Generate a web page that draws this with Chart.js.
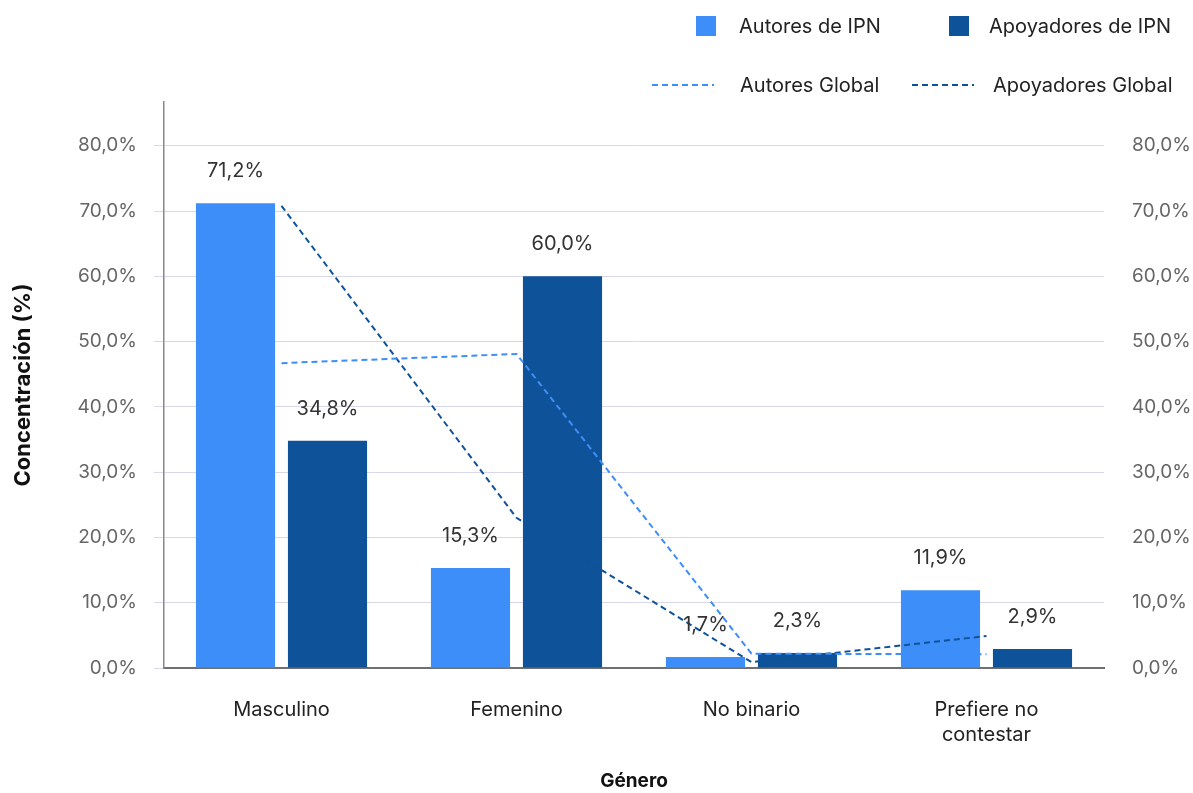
<!DOCTYPE html>
<html>
<head>
<meta charset="utf-8">
<script src="https://cdn.jsdelivr.net/npm/chart.js@4"></script>
<style>
  body { margin: 0; background: #fff; font-family: Inter, sans-serif; }
  #wrap { position: relative; width: 1193px; height: 793px; }
  .leg { position: absolute; font-size: 20px; color: #222; line-height: 20px; white-space: nowrap; }
  .sq { position: absolute; width: 20px; height: 20px; }
</style>
</head>
<body>
<div id="wrap">
  <canvas id="grafico"></canvas>
  <!-- leyenda -->
  <div class="sq" style="left:696px;top:16px;background:#3d8ef8"></div>
  <div class="leg" style="left:739px;top:16px">Autores de IPN</div>
  <div class="sq" style="left:949px;top:16px;background:#0e5299"></div>
  <div class="leg" style="left:989px;top:16px">Apoyadores de IPN</div>
  <svg style="position:absolute;left:652px;top:80px" width="62" height="10"><line x1="0" y1="5" x2="62" y2="5" stroke="#3d8ef8" stroke-width="2" stroke-dasharray="6 4"/></svg>
  <div class="leg" style="left:740px;top:75px">Autores Global</div>
  <svg style="position:absolute;left:912px;top:80px" width="62" height="10"><line x1="0" y1="5" x2="62" y2="5" stroke="#0e5299" stroke-width="2" stroke-dasharray="6 4"/></svg>
  <div class="leg" style="left:993px;top:75px">Apoyadores Global</div>
</div>
<script>
// datos
const categorias = ['Masculino', 'Femenino', 'No binario', ['Prefiere no', 'contestar']];
const autoresIPN = [71.2, 15.3, 1.7, 11.9];
const apoyadoresIPN = [34.8, 60.0, 2.3, 2.9];
const autoresGlobal = [46.7, 48.1, 2.2, 2.1];
const apoyadoresGlobal = [70.8, 23.0, 0.9, 4.9];
const ticksY = [0, 10, 20, 30, 40, 50, 60, 70, 80];

const colorClaro = '#3d8ef8';
const colorOscuro = '#0e5299';

function fmt(v) {
    return v.toFixed(1).replace('.', ',') + '%';
}

// etiquetas sobre las barras
const etiquetasBarras = {
    id: 'etiquetasBarras',
    afterDatasetsDraw(chart) {
        const ctx = chart.ctx;
        ctx.save();
        ctx.font = '20px Inter';
        ctx.fillStyle = '#333';
        ctx.textAlign = 'center';
        ctx.textBaseline = 'middle';
        chart.data.datasets.forEach((ds, i) => {
            if (ds.type !== 'bar') return;
            chart.getDatasetMeta(i).data.forEach((bar, j) => {
                ctx.fillText(fmt(ds.data[j]), bar.x, bar.y - 32);
            });
        });
        ctx.restore();
    }
};

function soloTicks(axis) {
    axis.ticks = ticksY.map(v => ({ value: v }));
}

new Chart(document.getElementById('grafico').getContext('2d'), {
    data: {
        labels: categorias,
        datasets: [{
            type: 'line',
            label: 'Autores Global',
            data: autoresGlobal,
            borderColor: colorClaro,
            borderWidth: 2,
            borderDash: [6, 4],
            pointRadius: 0,
            tension: 0,
            fill: false,
            order: 0
        }, {
            type: 'line',
            label: 'Apoyadores Global',
            data: apoyadoresGlobal,
            borderColor: colorOscuro,
            borderWidth: 2,
            borderDash: [6, 4],
            pointRadius: 0,
            tension: 0,
            fill: false,
            order: 0
        }, {
            type: 'bar',
            label: 'Autores de IPN',
            data: autoresIPN,
            backgroundColor: colorClaro,
            categoryPercentage: 0.783,
            barPercentage: 0.86,
            order: 1
        }, {
            type: 'bar',
            label: 'Apoyadores de IPN',
            data: apoyadoresIPN,
            backgroundColor: colorOscuro,
            categoryPercentage: 0.783,
            barPercentage: 0.86,
            order: 1
        }]
    },
    options: {
        responsive: true,
        maintainAspectRatio: false,
        animation: false,
        layout: { padding: { top: 102, left: 0, right: 0, bottom: 0 } },
        plugins: {
            legend: { display: false },
            tooltip: { enabled: false }
        },
        scales: {
            x: {
                grid: { display: false, drawTicks: false },
                border: { color: '#707070', width: 2 },
                ticks: { color: '#222', font: { family: 'Inter', size: 20, lineHeight: 1.25 }, padding: 29, maxRotation: 0 },
                title: { display: true, text: 'Género', color: '#111', font: { family: 'Inter', size: 19, weight: 'bold' }, padding: { top: 0, bottom: 0 } },
                afterFit(axis) { axis.height = 793 - 668; }
            },
            y: {
                position: 'left',
                min: 0,
                max: 86.7,
                afterBuildTicks: soloTicks,
                grid: { color: '#d8d8ea', lineWidth: 1, tickLength: 10 },
                border: { color: '#888', width: 1.5 },
                ticks: { color: '#666', font: { family: 'Inter', size: 19 }, padding: 17, callback: v => fmt(v) },
                title: { display: true, text: 'Concentración (%)', color: '#111', font: { family: 'Inter', size: 22, weight: 'bold' }, padding: { top: 10, bottom: 0 } },
                afterFit(axis) { axis.width = 164; }
            },
            y2: {
                position: 'right',
                min: 0,
                max: 86.7,
                afterBuildTicks: soloTicks,
                grid: { display: false, drawTicks: false },
                border: { display: false },
                ticks: { color: '#666', font: { family: 'Inter', size: 19 }, padding: 28, callback: v => fmt(v) },
                afterFit(axis) { axis.width = 1193 - 1104; }
            }
        }
    },
    plugins: [etiquetasBarras]
});
</script>
</body>
</html>
